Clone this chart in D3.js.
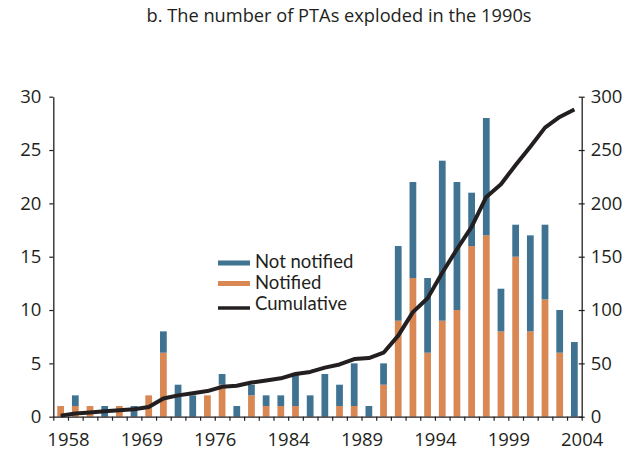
<!DOCTYPE html>
<html><head><meta charset="utf-8">
<script src="https://cdn.jsdelivr.net/npm/d3@7"></script>
<style>body{margin:0;background:#fff} svg{display:block} text{font-family:"Open Sans",sans-serif;fill:#231f20}</style>
</head><body>
<svg id="c" width="627" height="454"></svg>
<script>
const years = ["1958","1960","1961","1964","1967","1969","1970","1971","1973","1975","1976","1977","1979","1981","1983",
  "1984","1985","1986","1987","1988","1989","1990","1991","1992","1993","1994","1995","1996","1997","1998","1999","2000","2001","2002","2003","2004"];
const notified    = [1,1,1,0,1,0,2,6,0,0,2,3,0,2,1,1,1,0,0,1,1,0,3,9,13,6,9,10,16,17,8,15,8,11,6,0];
const notNotified = [0,1,0,1,0,1,0,2,3,2,0,1,1,1,1,1,3,2,4,2,4,1,2,7,9,7,15,12,5,11,4,3,9,7,4,7];
const cumulative  = [1,3,4,5,6,7,9,17,20,22,24,28,29,32,34,36,40,42,46,49,54,55,60,76,98,111,135,157,178,206,218,236,253,271,281,288];
const leftTicks = [0,5,10,15,20,25,30];
const rightTicks = [0,50,100,150,200,250,300];
const labelEvery = 5;
const seriesNames = ["Not notified","Notified","Cumulative"];
const colors = {notNotified:"#3f7391", notified:"#d98753", line:"#231f20"};

const svg = d3.select("#c");
const X0 = 53.3, X1 = 581.7, Y0 = 416.7, Y1 = 96.7;

const x = d3.scaleBand().domain(years).range([X0, X1]).paddingInner(0.54).paddingOuter(0.27);
const xi = d3.scaleLinear().domain([0, years.length]).range([X0, X1]);
const yL = d3.scaleLinear().domain([0, 30]).range([Y0, Y1]);
const yR = d3.scaleLinear().domain([0, 300]).range([Y0, Y1]);

svg.append("text").attr("x", 339).attr("y", 22).attr("text-anchor","middle")
  .style("font-size","18px").attr("textLength", 385).attr("lengthAdjust","spacingAndGlyphs")
  .text("b. The number of PTAs exploded in the 1990s");

// bars
const g = svg.append("g");
g.selectAll("rect.n").data(years).join("rect").attr("class","n")
  .attr("x", d => x(d)).attr("width", x.bandwidth())
  .attr("y", (d,i) => yL(notified[i])).attr("height", (d,i) => Y0 - yL(notified[i]))
  .attr("fill", colors.notified);
g.selectAll("rect.nn").data(years).join("rect").attr("class","nn")
  .attr("x", d => x(d)).attr("width", x.bandwidth())
  .attr("y", (d,i) => yL(notified[i] + notNotified[i]))
  .attr("height", (d,i) => yL(notified[i]) - yL(notified[i] + notNotified[i]))
  .attr("fill", colors.notNotified);

// line
const line = d3.line().x((d,i) => x(years[i]) + x.bandwidth()/2).y(d => yR(d));
svg.append("path").datum(cumulative).attr("d", line).attr("fill","none")
  .attr("stroke", colors.line).attr("stroke-width", 4).attr("stroke-linejoin","round").attr("stroke-linecap","butt");

// axes
const axL = svg.append("g").attr("transform", `translate(${X0},0)`)
  .call(d3.axisLeft(yL).tickValues(leftTicks).tickSizeInner(4).tickSizeOuter(0).tickPadding(8));
const axR = svg.append("g").attr("transform", `translate(${X1},0)`)
  .call(d3.axisRight(yR).tickValues(rightTicks).tickSizeInner(3).tickSizeOuter(0).tickPadding(6));
axR.selectAll(".tick line").attr("x1", -3);
const axB = svg.append("g").attr("transform", `translate(0,${Y0})`)
  .call(d3.axisBottom(xi).tickValues(d3.range(0, years.length + 1)).tickSizeInner(4).tickSizeOuter(0).tickPadding(12)
    .tickFormat(i => (i % labelEvery === 1) ? years[i-1] : ""));
[axL, axR, axB].forEach(a => {
  a.selectAll("path.domain").attr("stroke", "#231f20").attr("stroke-width", 1.3);
  a.selectAll(".tick line").attr("stroke", "#231f20").attr("stroke-width", 1.2);
  a.selectAll("text").style("font-size","18.5px").attr("fill","#231f20").style("font-family","'Open Sans',sans-serif");
});

// legend
const lg = svg.append("g").attr("transform","translate(218,0)");
lg.append("rect").attr("x",0).attr("y",260.5).attr("width",32).attr("height",5).attr("fill",colors.notNotified);
lg.append("rect").attr("x",0).attr("y",281).attr("width",32).attr("height",5).attr("fill",colors.notified);
lg.append("line").attr("x1",0).attr("x2",32).attr("y1",308).attr("y2",308).attr("stroke",colors.line).attr("stroke-width",3.5);
[268,288.5,309.5].forEach((yy,i) => lg.append("text").attr("x",37).attr("y",yy)
  .style("font-family","Lato,sans-serif").style("font-size","18.5px").text(seriesNames[i]));
</script>
</body></html>
